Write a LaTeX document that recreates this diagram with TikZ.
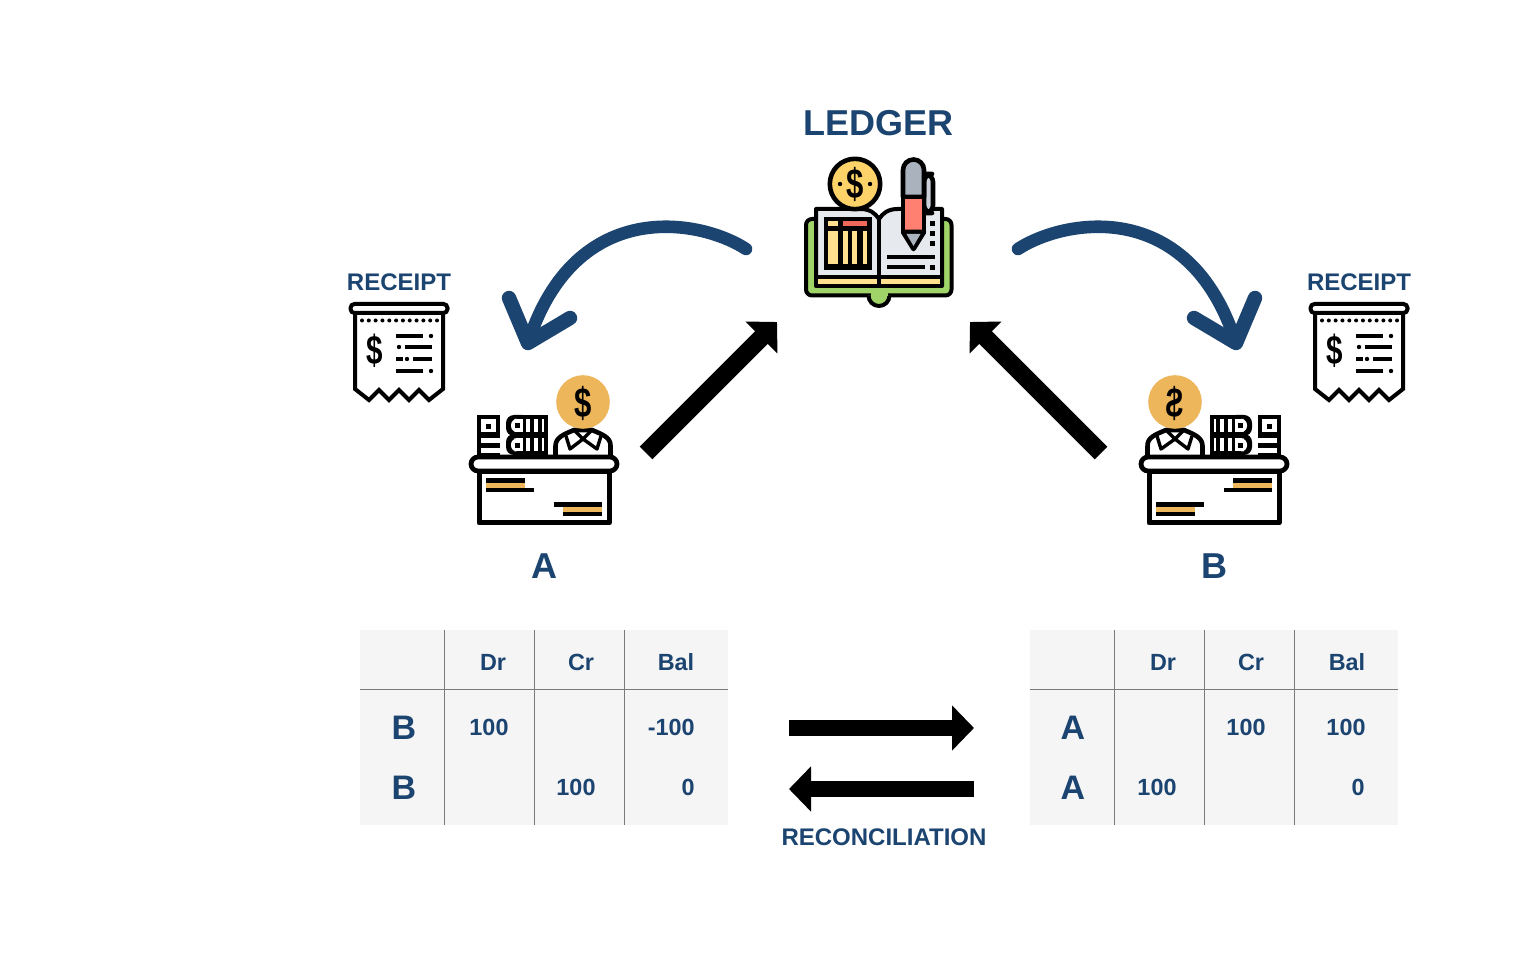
\documentclass[tikz,border=0pt]{standalone}
\usepackage{fontspec}
\setmainfont{Liberation Sans}
\usetikzlibrary{arrows.meta}
\definecolor{navy}{HTML}{1C4470}
\definecolor{gold}{HTML}{EDB65B}
\definecolor{tablebg}{HTML}{F5F5F5}
\definecolor{rule}{HTML}{7A7A7A}
\definecolor{lcoin}{HTML}{FDD268}
\definecolor{lyellow}{HTML}{FFE08F}
\definecolor{lred}{HTML}{F0685A}
\definecolor{lpink}{HTML}{FF8070}
\definecolor{lgreen}{HTML}{A0D468}
\definecolor{lpage}{HTML}{E6E9ED}
\definecolor{lgray}{HTML}{AAB2BD}
\definecolor{lgrayb}{HTML}{CCD1D9}
\tikzset{
  x=0.5pt, y=-0.5pt,
  bigtitle/.style={text=navy,font=\bfseries\fontsize{18}{20}\selectfont,inner sep=0},
  smalltitle/.style={text=navy,font=\bfseries\fontsize{12}{14}\selectfont,inner sep=0},
  cellnum/.style={text=navy,font=\bfseries\fontsize{11.7}{14}\selectfont,inner sep=0},
  rowhead/.style={text=navy,font=\bfseries\fontsize{17}{20}\selectfont,inner sep=0},
  tablerule/.style={draw=rule,line width=0.45pt},
  curvearrow/.style={draw=navy,line width=6.3pt,line cap=round,line join=round},
  arrowhook/.style={draw=navy,line width=7.2pt,line cap=round,line join=round},
  blockarrow/.style={draw=black,line width=8pt,-{Triangle[length=11pt,width=22pt]}},
  diagarrow/.style={draw=black,line width=9pt,-{Triangle[length=11pt,width=22pt]}},
  icon/.style={draw=black,line width=2.3pt,line join=round},
  ledgerline/.style={draw=black,line width=2pt,line join=round},
  iconthin/.style={draw=black,line width=1.7pt},
  receiptpic/.pic={
    \draw[iconthin,line width=2pt,fill=white,line join=miter] (355,314) -- (355,389) -- (369,400) -- (379,390) -- (389,400) -- (399,390) -- (409,400) -- (419,390) -- (429,400) -- (443,389) -- (443,314);
    \draw[iconthin,line width=2pt,fill=white,rounded corners=2pt] (350.5,304) rectangle (447.5,313);
    \foreach \i in {0,...,11} \fill (362+\i*6.82,320.5) circle[radius=1pt];
    \node[inner sep=0,xscale=0.72,transform shape,font=\bfseries\fontsize{20.5}{22}\selectfont] (dollar) at (375,351) {\$};
    \draw[iconthin] (396,336) -- (423,336) (405,347) -- (432,347) (396,359) -- (403,359) (413,359) -- (432,359) (396,371) -- (423,371);
    \foreach \a/\b in {431/336,399/347,407/359,431/371} \fill (\a,\b) circle[radius=1.1pt];
  },
  deskpic/.pic={
    % person
    \draw[icon,fill=white] (555.5,456) -- (555.5,446) .. controls (555.5,437) and (565,434) .. (574,430) -- (592,430) .. controls (601,434) and (611,437) .. (610.5,446) -- (610.5,456);
    \draw[icon,line width=1.7pt] (574,430) -- (583,439) -- (570,449) -- (566,436) (592,430) -- (583,439) -- (597,449) -- (601,436);
    % coin
    \fill[gold] (583,402) circle[radius=13.4pt];
    \node[inner sep=0,xscale=0.74,transform shape,font=\bfseries\fontsize{21}{22}\selectfont] (coin) at (583,403) {\$};
    % flat file
    \fill (477,415) rectangle (500,455);
    \fill[white] (481,419) rectangle (496,432);
    \fill (486,424) rectangle (491,429);
    \fill[white] (481,438) rectangle (500,443);
    \fill[white] (481,448) rectangle (500,453);
    % binders
    \fill[rounded corners=4pt] (506,415) rectangle (530,436);
    \fill[rounded corners=4pt] (506,434) rectangle (530,455);
    \fill (520,415) rectangle (548,455);
    \foreach \yy in {0,19.5}{
      \fill[white,rounded corners=3pt] (511,419+\yy) rectangle (520,432+\yy);
      \fill[white] (516,419+\yy) rectangle (523,432+\yy);
      \fill (515,423.5+\yy) rectangle (520,428.5+\yy);
      \fill[white] (526,419+\yy) rectangle (530,432+\yy);
      \fill[white] (534,419+\yy) rectangle (538,432+\yy);
      \fill[white] (542,419+\yy) rectangle (544,432+\yy);
    }
    % desk
    \draw[icon,line width=2.5pt,fill=white] (479,472) rectangle (609,523);
    \draw[icon,line width=2.4pt,fill=white,rounded corners=3.5pt] (471,457) rectangle (617,471);
    \fill (486,478) rectangle (525,483);
    \fill[gold] (486,483) rectangle (525,488);
    \fill (486,488) rectangle (534,492);
    \fill (554,502) rectangle (602,507);
    \fill[gold] (563,507) rectangle (602,512);
    \fill (563,512) rectangle (602,516);
  },
  ledgerpic/.pic={
    % cover
    \draw[ledgerline,fill=lgreen,rounded corners=3pt] (806,219) -- (806,295.5) -- (951.5,295.5) -- (951.5,219) -- cycle;
    \draw[ledgerline,fill=lgreen] (868.5,295.5) arc[start angle=180,end angle=360,radius=5.25pt];
    \fill[lgreen] (870.5,289) rectangle (887.5,296.5);
    % pages
    \draw[ledgerline,fill=lpage] (816,209) -- (860,209) .. controls (870,209) and (875,213) .. (879,219) .. controls (883,213) and (888,209) .. (898,209) -- (942,209) -- (942,286) -- (816,286) -- cycle;
    \draw[ledgerline] (879,219) -- (879,286);
    \fill (816,275) rectangle (942,279);
    \fill[lyellow] (818,279) rectangle (877,284);
    \fill[lyellow] (881,279) rectangle (940,284);
    % table on the left page
    \fill (824,217) rectangle (872,270);
    \fill[lyellow] (828,221) rectangle (838,226);
    \fill[lred] (843,221) rectangle (867,226);
    \foreach \a/\b in {828/838,843/848,852/857,863/867} \fill[lyellow] (\a,231) rectangle (\b,264);
    % right page marks
    \foreach \yy in {223,233,243,267} \fill (930,\yy-2) rectangle (935,\yy+3);
    \fill (887,255) rectangle (935,259);
    \fill (887,265) rectangle (925,269);
    % pens
    \draw[icon,fill=lgrayb,rounded corners=4pt] (924,174) -- (933,174) -- (933,213) -- (924,213) -- cycle;
    \draw[icon,fill=lgray] (903,197) -- (903,170) arc[start angle=180,end angle=0,radius=5.25pt] -- (924,197) -- cycle;
    \draw[icon,fill=lpink] (903,197) rectangle (924,232);
    \draw[icon,fill=lpage,line join=round] (903,232) -- (924,232) -- (913.5,249) -- cycle;
    \fill[lgray] (906.5,234) -- (920.5,234) -- (913.5,246) -- cycle;
    % coin
    \draw[icon,fill=lcoin] (855,184) circle[radius=12.6pt];
    \node[inner sep=0,xscale=0.74,transform shape,font=\bfseries\fontsize{21}{22}\selectfont] (ledgercoin) at (855,184) {\$};
    \fill (840,184) circle[radius=1.1pt] (870,184) circle[radius=1.1pt];
  },
  tablepic/.pic={
    \fill[tablebg] (360,630) rectangle (728,825);
    \draw[tablerule] (444.5,630) -- (444.5,825) (534.5,630) -- (534.5,825) (624.5,630) -- (624.5,825) (360,689.5) -- (728,689.5);
  }
}
\begin{document}
\begin{tikzpicture}
\useasboundingbox (0,0) rectangle (1536,956);
\fill[white] (0,0) rectangle (1536,956);

% titles
\node[bigtitle] (ledgertitle) at (878,123) {LEDGER};
\node[smalltitle] (receiptAtitle) at (399,282) {RECEIPT};
\node[smalltitle] (receiptBtitle) at (1359,282) {RECEIPT};
\node[bigtitle] (Alabel) at (544,566) {A};
\node[bigtitle] (Blabel) at (1214,566) {B};

% icons
\pic (ledgericon) at (0,0) {ledgerpic};
\pic (receiptA) at (0,0) {receiptpic};
\pic (receiptB) at (960,0) {receiptpic};
\pic (deskA) at (0,0) {deskpic};
\pic[xscale=-1] (deskB) at (1758,0) {deskpic};

% connector ends
\coordinate (ledgerL) at (746,249);
\coordinate (ledgerR) at (1018,249);
\coordinate (toA) at (528,343);
\coordinate (toB) at (1236,343);
\coordinate (headAa) at (509,298);
\coordinate (headAb) at (570,318);
\coordinate (headBa) at (1255,298);
\coordinate (headBb) at (1194,318);
\coordinate (fromA) at (646,453);
\coordinate (fromB) at (1101,453);
\coordinate (ledgerInL) at (777,322);
\coordinate (ledgerInR) at (970,322);
\coordinate (recTopL) at (789,728);
\coordinate (recTopR) at (974,728);
\coordinate (recBotR) at (974,789);
\coordinate (recBotL) at (789,789);

% curved arrows
\draw[curvearrow] (ledgerL) .. controls (700,219) and (575,196) .. (toA);
\draw[arrowhook] (headAa) -- (toA) -- (headAb);
\draw[curvearrow] (ledgerR) .. controls (1064,219) and (1189,196) .. (toB);
\draw[arrowhook] (headBa) -- (toB) -- (headBb);

% block arrows
\draw[diagarrow] (fromA) -- (ledgerInL);
\draw[diagarrow] (fromB) -- (ledgerInR);
\draw[blockarrow] (recTopL) -- (recTopR);
\draw[blockarrow] (recBotR) -- (recBotL);
\node[smalltitle] (reconciliation) at (884,837) {RECONCILIATION};

% left table
\pic (tableA) at (0,0) {tablepic};
\node[cellnum] (aDr) at (493,662) {Dr};
\node[cellnum] (aCr) at (581,662) {Cr};
\node[cellnum] (aBal) at (676,662) {Bal};
\node[rowhead] (aB1) at (404,728) {B};
\node[rowhead] (aB2) at (404,788) {B};
\node[cellnum] (a11) at (489,727) {100};
\node[cellnum,anchor=east] (a13) at (695,727) {-100};
\node[cellnum] (a22) at (576,787) {100};
\node[cellnum,anchor=east] (a23) at (695,787) {0};

% right table
\pic (tableB) at (670,0) {tablepic};
\node[cellnum] (bDr) at (1163,662) {Dr};
\node[cellnum] (bCr) at (1251,662) {Cr};
\node[cellnum] (bBal) at (1347,662) {Bal};
\node[rowhead] (bA1) at (1073,728) {A};
\node[rowhead] (bA2) at (1073,788) {A};
\node[cellnum] (b12) at (1246,727) {100};
\node[cellnum] (b13) at (1346,727) {100};
\node[cellnum] (b21) at (1157,787) {100};
\node[cellnum,anchor=east] (b23) at (1365,787) {0};
\end{tikzpicture}
\end{document}
